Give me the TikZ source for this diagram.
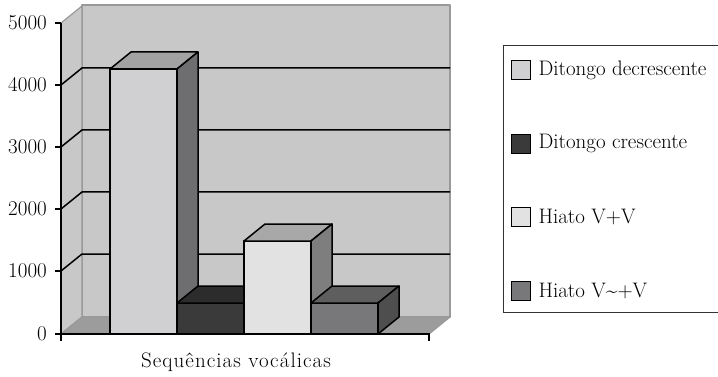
\documentclass[tikz,border=0pt]{standalone}
\usepackage{fontspec}
\setmainfont{Latin Modern Roman}
\usetikzlibrary{positioning}
\definecolor{wallgray}{HTML}{C8C8C9}
\definecolor{floorgray}{HTML}{9C9C9C}
\definecolor{edgegray}{HTML}{999999}
\definecolor{decfront}{HTML}{D0D0D2}
\definecolor{dectop}{HTML}{A2A2A2}
\definecolor{decside}{HTML}{6E6E70}
\definecolor{crefront}{HTML}{3A3A3A}
\definecolor{cretop}{HTML}{2C2C2C}
\definecolor{creside}{HTML}{262626}
\definecolor{hvvfront}{HTML}{E2E2E3}
\definecolor{hvvtop}{HTML}{A8A8A8}
\definecolor{hvvside}{HTML}{7E7E7E}
\definecolor{hnvfront}{HTML}{78787A}
\definecolor{hnvtop}{HTML}{5E5E5E}
\definecolor{hnvside}{HTML}{4E4E4E}
\newcommand\drawbar[5]{%
  \filldraw[face,fill=#3] (#1,334) rectangle (#1+67,#2);
  \filldraw[face,fill=#4] (#1,#2) -- ++(21,-17) -- ++(67,0) -- ++(-21,17) -- cycle;
  \filldraw[face,fill=#5] (#1+67,#2) -- ++(21,-17) -- (#1+88,317) -- (#1+67,334) -- cycle;}
\begin{document}
\begin{tikzpicture}[x=1pt,y=-1pt,node distance=54pt,
    lbl/.style={font=\fontsize{21}{24}\selectfont,inner sep=0pt},
    grid/.style={line width=1.5pt},
    face/.style={draw=black,line width=1.5pt,line join=round},
    wall/.style={fill=wallgray,draw=edgegray,line width=1.2pt,line join=round},
    swatch/.style={draw=black,line width=0.6pt,minimum size=19pt,inner sep=0pt}]
    \useasboundingbox (0,0) rectangle (718,377);
    \fill[white] (0,0) rectangle (718,377);
    \draw[wall] (82,5) rectangle (450,317);
    \draw[wall] (61,23) -- (82,6) -- (82,317) -- (61,334) -- cycle;
    \draw[wall,fill=floorgray] (61,334) -- (82,317) -- (450,317) -- (429,334) -- cycle;
    \foreach \y in {85,147,209,271}
        \draw[grid] (61,\y) -- ++(21,-17) -- (450,\y-17);
    \draw[grid] (61,23) -- (61,341);
    \draw[grid] (61,334) -- (429,334) -- (429,341);
    \foreach \v/\y in {0/334,1000/271,2000/209,3000/147,4000/85,5000/23} {
        \draw[grid] (55,\y) -- (61,\y);
        \node[lbl,anchor=east] (y\v) at (47,\y) {\v};
    }
    \drawbar{110}{69}{decfront}{dectop}{decside}
    \drawbar{177}{303}{crefront}{cretop}{creside}
    \drawbar{244}{241}{hvvfront}{hvvtop}{hvvside}
    \drawbar{311}{303}{hnvfront}{hnvtop}{hnvside}
    \node[lbl] (xtitle) at (236,362) {\addfontfeature{LetterSpace=5}Sequências vocálicas};
    \draw[draw=black!80,line width=0.9pt] (718,45) -- (503,45) -- (503,312) -- (718,312);
    \node[swatch,fill=decfront] (s1) at (520.5,70) {};
    \node[swatch,fill=crefront,below=of s1] (s2) {};
    \node[swatch,fill=hvvfront,below=of s2] (s3) {};
    \node[swatch,fill=hnvfront,below=of s3] (s4) {};
    \node[lbl,right=8pt of s1] (l1) {Ditongo decrescente};
    \node[lbl,right=8pt of s2] (l2) {Ditongo crescente};
    \node[lbl,right=8pt of s3] (l3) {Hiato V+V};
    \node[lbl,right=8pt of s4] (l4) {Hiato V\char`\~+V};
\end{tikzpicture}
\end{document}
